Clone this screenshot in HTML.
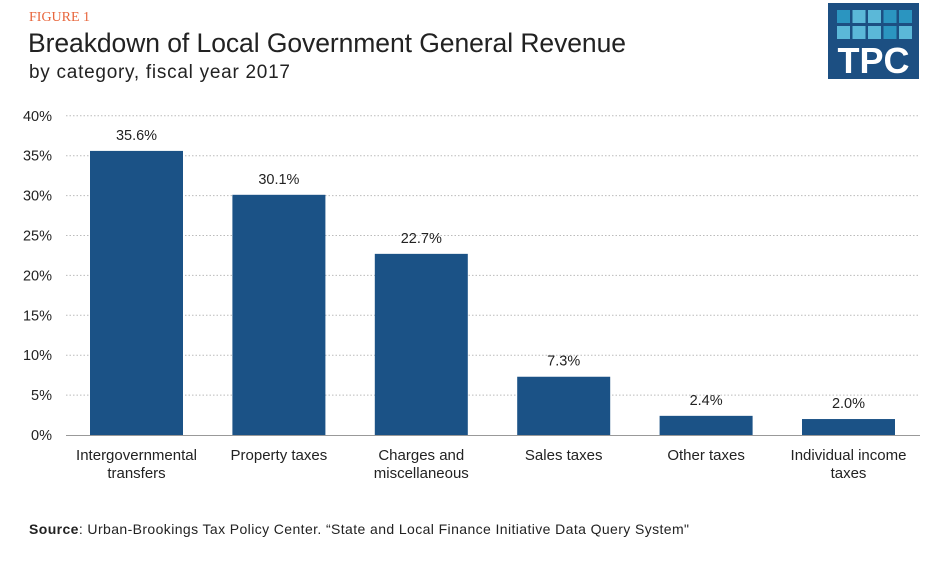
<!DOCTYPE html>
<html><head><meta charset="utf-8"><style>
body{margin:0;background:#fff;width:932px;height:558px;overflow:hidden;font-family:"Liberation Sans",sans-serif;}
</style></head><body>
<svg width="932" height="558" xmlns="http://www.w3.org/2000/svg">
<text x="29" y="21" font-family="Liberation Serif" font-size="14" fill="#e8663c">FIGURE 1</text>
<text x="28" y="52" font-size="26.5" fill="#222" textLength="598">Breakdown of Local Government General Revenue</text>
<text x="29" y="78" font-size="19" fill="#222" textLength="261">by category, fiscal year 2017</text>
<g>
<rect x="828" y="3" width="91" height="76" fill="#1c4f82"/>
<g id="sq"></g>
<text x="873.5" y="73" text-anchor="middle" font-size="36" font-weight="bold" fill="#fff">TPC</text>
</g>
<g id="grid"></g><g id="bars"></g>
<text x="29" y="534" font-size="14" fill="#222" textLength="660"><tspan font-weight="bold">Source</tspan>: Urban-Brookings Tax Policy Center. “State and Local Finance Initiative Data Query System"</text>
</svg>
<script>
const categories=[["Intergovernmental","transfers"],["Property taxes"],["Charges and","miscellaneous"],["Sales taxes"],["Other taxes"],["Individual income","taxes"]];
const values=[35.6,30.1,22.7,7.3,2.4,2.0];
const valueLabels=["35.6%","30.1%","22.7%","7.3%","2.4%","2.0%"];
const ticks=[0,5,10,15,20,25,30,35,40];
const NS="http://www.w3.org/2000/svg";
const y=v=>435-v*7.98;
const x=i=>90+i*142.4;
const bw=93;
function el(t,a,p){const e=document.createElementNS(NS,t);for(const k in a)e.setAttribute(k,a[k]);p.appendChild(e);return e;}
const sq=document.getElementById('sq');
const dark=[0,3,4,8];
for(let r=0;r<2;r++)for(let c=0;c<5;c++){const s=el('rect',{x:837+c*15.5,y:10+r*16,width:13,height:13,fill:dark.includes(r*5+c)?'#2b95c0':'#5bb8d8'},sq);

}
const g=document.getElementById('grid');
ticks.forEach(t=>{
 if(t>0){const l=el('line',{x1:66,x2:920,y1:y(t),y2:y(t),stroke:'#bbb','stroke-dasharray':'1.5,2','stroke-width':1},g);
 
 }
 const tx=el('text',{x:52,y:y(t)+5,'text-anchor':'end','font-size':14.5,fill:'#222'},g);tx.textContent=t+'%';
 
 
});
const base=el('line',{x1:66,x2:920,y1:435.5,y2:435.5,stroke:'#999','stroke-width':1},g);


const b=document.getElementById('bars');
values.forEach((v,i)=>{
 const r=el('rect',{x:x(i),y:y(v),width:bw,height:435-y(v),fill:'#1b5286'},b);
 
 
 const t=el('text',{x:x(i)+bw/2,y:y(v)-11,'text-anchor':'middle','font-size':14.5,fill:'#222'},b);t.textContent=valueLabels[i];
 
 
 categories[i].forEach((ln,j)=>{const c=el('text',{x:x(i)+bw/2,y:460+j*18,'text-anchor':'middle','font-size':15,fill:'#222'},b);c.textContent=ln;
 
 });
});
</script>
</body></html>
